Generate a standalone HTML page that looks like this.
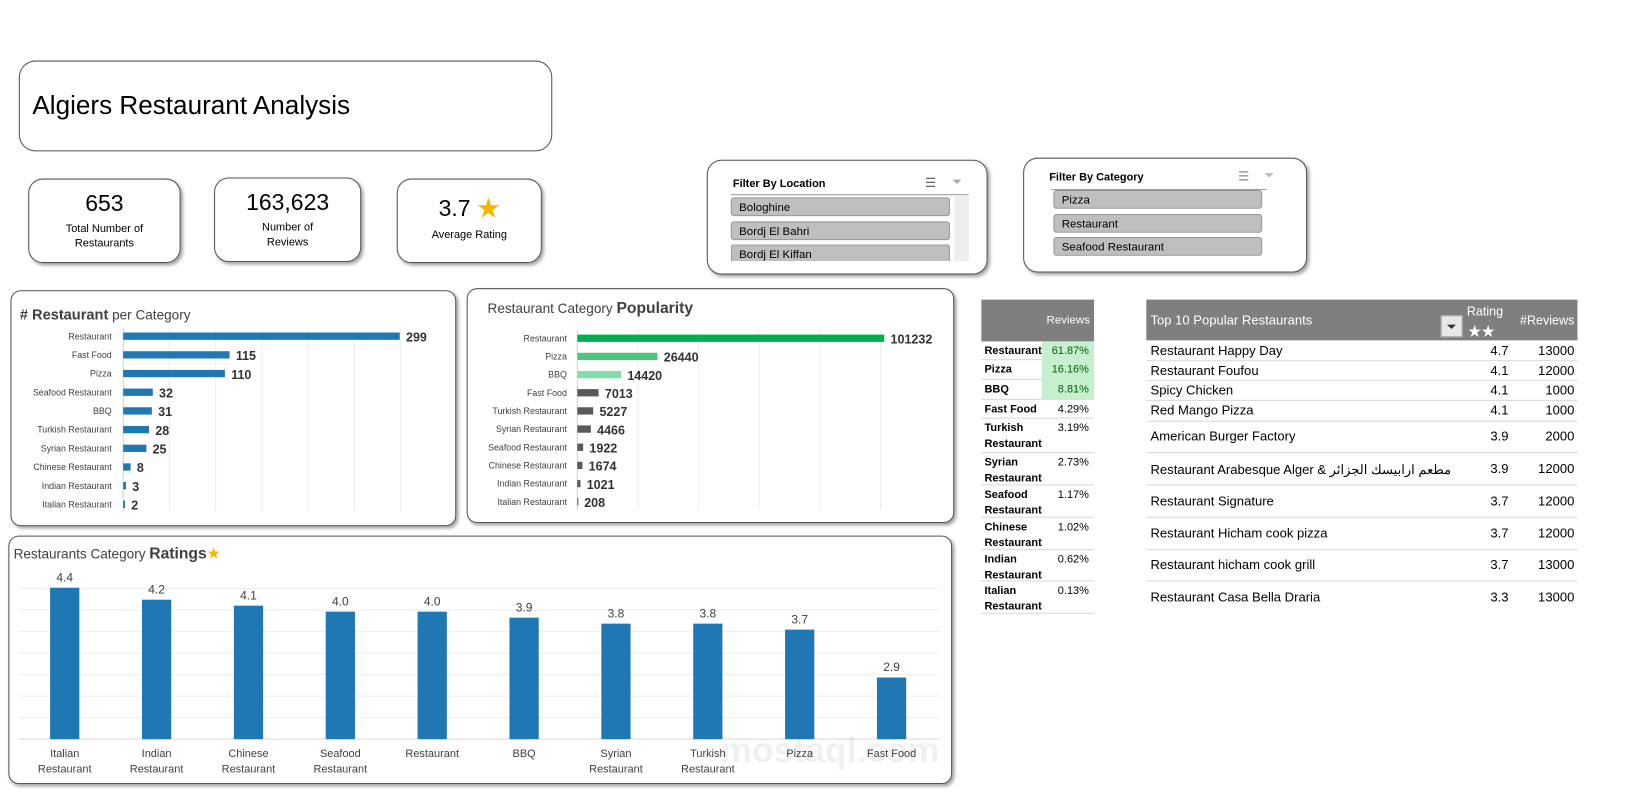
<!DOCTYPE html>
<html><head><meta charset="utf-8">
<style>
body{margin:0;width:1637px;height:796px;background:#fff;font-family:"Liberation Sans","Noto Sans CJK SC",sans-serif;position:relative;overflow:hidden;color:#000}
#wrap{position:absolute;left:0;top:0;width:1568px;height:763px;transform:scale(1.044);transform-origin:0 0}
.box{position:absolute;border:1px solid #555;border-radius:14px;background:#fff;box-shadow:2px 2px 3px rgba(0,0,0,.35)}
.kpi{text-align:center}
.kpi .v{font-size:22px;margin-top:10px}
.kpi .l{font-size:10.5px;line-height:14px;margin-top:4px}
.slicer .t{position:absolute;left:24px;top:16px;font-size:10.5px;font-weight:bold}
.slicer .line{position:absolute;left:22px;height:1px;background:#999}
.item{position:absolute;left:22px;height:18px;background:#bfbfbf;border:1px solid #999;border-radius:3px;font-size:11px;line-height:18px;padding-left:7px;box-sizing:border-box}
.tbl{position:absolute;font-size:10.5px}
.row{position:absolute;left:0;border-bottom:1px solid #d9d9d9}
svg text{font-family:"Liberation Sans",sans-serif}
</style></head><body>
<div id="wrap">

<div class="box" style="left:18px;top:58px;width:509px;height:85px;border-radius:16px;box-shadow:none">
  <div style="position:absolute;left:12px;top:28px;font-size:25px">Algiers Restaurant Analysis</div>
</div>

<div class="box kpi" style="left:27px;top:171px;width:144px;height:79px"><div class="v">653</div><div class="l">Total Number of<br>Restaurants</div></div>
<div class="box kpi" style="left:205px;top:170px;width:139px;height:79px"><div class="v">163,623</div><div class="l">Number of<br>Reviews</div></div>
<div class="box kpi" style="left:380px;top:171px;width:137px;height:79px"><div class="v">3.7 <span style="color:#f5b800">★</span></div><div class="l">Average Rating</div></div>

<div class="box slicer" style="left:677px;top:153px;width:267px;height:108px">
  <div class="t">Filter By Location</div>
  <div style="position:absolute;left:208px;top:14px;font-size:12px;color:#666">☰</div>
  <div style="position:absolute;left:234px;top:13px;font-size:12px;color:#aaa">⏷</div>
  <div class="line" style="top:32px;width:228px"></div>
  <div style="position:absolute;left:236px;top:34px;width:14px;height:62px;background:#eee"></div>
  <div class="item" style="top:35px;width:210px">Bologhine</div>
  <div class="item" style="top:58px;width:210px">Bordj El Bahri</div>
  <div class="item" style="top:80px;width:210px;height:16px;border-bottom:none;border-radius:3px 3px 0 0">Bordj El Kiffan</div>
</div>

<div class="box slicer" style="left:980px;top:151px;width:270px;height:108px">
  <div class="t" style="top:12px">Filter By Category</div>
  <div style="position:absolute;left:205px;top:10px;font-size:12px;color:#888">☰</div>
  <div style="position:absolute;left:230px;top:9px;font-size:12px;color:#bbb">⏷</div>
  <div class="line" style="top:29px;width:206px;left:26px"></div>
  <div class="item" style="left:28px;top:30px;width:200px">Pizza</div>
  <div class="item" style="left:28px;top:53px;width:200px">Restaurant</div>
  <div class="item" style="left:28px;top:75px;width:200px">Seafood Restaurant</div>
</div>

<div class="box" style="left:10px;top:278px;width:425px;height:224px;border-radius:10px"></div>
<div class="box" style="left:447px;top:276px;width:465px;height:223px;border-radius:10px"></div>
<div class="box" style="left:8px;top:513px;width:902px;height:236px;border-radius:10px"></div>

<svg id="charts" width="1568" height="763" style="position:absolute;left:0;top:0"></svg>

<div class="tbl" style="left:940px;top:287px;width:108px;height:302px">
  <div style="position:absolute;left:0;top:0;width:108px;height:40px;background:#7f7f7f;color:#fff;font-size:11px"><span style="position:absolute;right:4px;top:14px">Reviews</span></div>
  <div id="revRows"></div>
</div>

<div class="tbl" style="left:1098px;top:287px;width:413px;height:302px;font-size:12.5px">
  <div style="position:absolute;left:0;top:0;width:413px;height:39px;background:#7f7f7f;color:#fff">
    <span style="position:absolute;left:4px;top:13px;font-size:12.5px">Top 10 Popular Restaurants</span>
    <span style="position:absolute;left:282px;top:15px;width:21px;height:21px;background:#e8e8e8;border:1px solid #aaa;color:#333;font-size:12px;text-align:center;line-height:20px;box-sizing:border-box">⏷</span>
    <span style="position:absolute;left:307px;top:4px;font-size:12px">Rating</span>
    <span style="position:absolute;left:308px;top:20px;font-size:13px">★★</span>
    <span style="position:absolute;right:3px;top:13px;font-size:12px">#Reviews</span>
  </div>
  <div id="topRows"></div>
</div>

<div style="position:absolute;left:690px;top:700px;font-size:34px;color:rgba(0,0,0,.06);font-weight:bold">mostaql.com</div>
</div>

<script>
const NS='http://www.w3.org/2000/svg';
const svg=document.getElementById('charts');
function el(tag,attrs,txt){const e=document.createElementNS(NS,tag);for(const k in attrs)e.setAttribute(k,attrs[k]);if(txt!==undefined)e.textContent=txt;svg.appendChild(e);return e;}

const c1Cats=['Restaurant','Fast Food','Pizza','Seafood Restaurant','BBQ','Turkish Restaurant','Syrian Restaurant','Chinese Restaurant','Indian Restaurant','Italian Restaurant'];
const c1Vals=[299,115,110,32,31,28,25,8,3,2];
const c2Cats=['Restaurant','Pizza','BBQ','Fast Food','Turkish Restaurant','Syrian Restaurant','Seafood Restaurant','Chinese Restaurant','Indian Restaurant','Italian Restaurant'];
const c2Vals=[101232,26440,14420,7013,5227,4466,1922,1674,1021,208];
const c3Cats=[['Italian','Restaurant'],['Indian','Restaurant'],['Chinese','Restaurant'],['Seafood','Restaurant'],['Restaurant'],['BBQ'],['Syrian','Restaurant'],['Turkish','Restaurant'],['Pizza'],['Fast Food']];
const c3Vals=[4.4,4.2,4.1,4.0,4.0,3.9,3.8,3.8,3.7,2.9];
const revCats=[['Restaurant'],['Pizza'],['BBQ'],['Fast Food'],['Turkish','Restaurant'],['Syrian','Restaurant'],['Seafood','Restaurant'],['Chinese','Restaurant'],['Indian','Restaurant'],['Italian','Restaurant']];
const revPct=['61.87%','16.16%','8.81%','4.29%','3.19%','2.73%','1.17%','1.02%','0.62%','0.13%'];
const topNames=['Restaurant Happy Day','Restaurant Foufou','Spicy Chicken','Red Mango Pizza','American Burger Factory','Restaurant Arabesque Alger & مطعم ارابيسك الجزائر','Restaurant Signature','Restaurant Hicham cook pizza','Restaurant hicham cook grill','Restaurant Casa Bella Draria'];
const topRatings=['4.7','4.1','4.1','4.1','3.9','3.9','3.7','3.7','3.7','3.3'];
const topReviews=['13000','12000','1000','1000','2000','12000','12000','12000','13000','13000'];

const t1=el('text',{x:19,y:306,'font-size':14,fill:'#404040'});

t1.innerHTML='<tspan font-weight="bold"># Restaurant</tspan><tspan font-size="13"> per Category</tspan>';
const x1=v=>118+v*0.886, y1=i=>322+i*17.9;
for(let g=0;g<=300;g+=50){const l=el('line',{x1:x1(g),x2:x1(g),y1:314,y2:490,stroke:g?'#eee':'#d0d0d0'});}
c1Cats.forEach((c,i)=>{
 const t=el('text',{x:107,y:y1(i)+3,'font-size':8.5,fill:'#404040','text-anchor':'end'},c);
 
 const r=el('rect',{x:118,y:y1(i)-3.5,width:Math.max(1,x1(c1Vals[i])-118),height:7,fill:'#1f77b4'});
 
 const v=el('text',{x:x1(c1Vals[i])+6,y:y1(i)+5,'font-size':12,'font-weight':'bold',fill:'#333'},c1Vals[i]);
 
});

const t2=el('text',{x:467,y:300,'font-size':13,fill:'#404040'});

t2.innerHTML='Restaurant Category <tspan font-weight="bold" font-size="15">Popularity</tspan>';
const x2=v=>553+v*294/101232, y2=i=>324+i*17.4;
for(let g=0;g<=100000;g+=20000){const l=el('line',{x1:x2(g),x2:x2(g),y1:316,y2:488,stroke:g?'#eee':'#d0d0d0'});}
const c2Colors=['#00b050','#4cc67e','#83dcaa'];
c2Cats.forEach((c,i)=>{
 const t=el('text',{x:543,y:y2(i)+3,'font-size':8.5,fill:'#404040','text-anchor':'end'},c);
 
 const r=el('rect',{x:553,y:y2(i)-3.5,width:Math.max(1,x2(c2Vals[i])-553),height:7,fill:c2Colors[i]||'#595959'});
 
 const v=el('text',{x:x2(c2Vals[i])+6,y:y2(i)+5,'font-size':12,'font-weight':'bold',fill:'#333'},c2Vals[i]);
 
});

const t3=el('text',{x:13,y:535,'font-size':13,fill:'#404040'});

t3.innerHTML='Restaurants Category <tspan font-weight="bold" font-size="15">Ratings</tspan><tspan fill="#f5b800" font-size="15">★</tspan>';
const yMin=1.87, base3=708, k3=57.33;
const y3=v=>base3-(v-yMin)*k3, x3=i=>62+i*88;
for(let j=0;j<8;j++){const l=el('line',{x1:18,x2:900,y1:base3-j*20.6,y2:base3-j*20.6,stroke:j?'#eee':'#d9d9d9'});}
c3Cats.forEach((c,i)=>{
 const r=el('rect',{x:x3(i)-14,y:y3(c3Vals[i]),width:28,height:base3-y3(c3Vals[i]),fill:'#1f77b4'});
 
 const v=el('text',{x:x3(i),y:y3(c3Vals[i])-6,'font-size':11.5,fill:'#404040','text-anchor':'middle'},c3Vals[i].toFixed(1));
 
 c.forEach((ln,k)=>{const t=el('text',{x:x3(i),y:725+k*15,'font-size':10.5,fill:'#404040','text-anchor':'middle'},ln);
  });
});

const revTops=[327,345,364,383,401,434,465,496,527,557,588];
const rr=document.getElementById('revRows');
revCats.forEach((c,i)=>{
 const d=document.createElement('div');
 
 
 d.className='row';const top=revTops[i]-287,h=revTops[i+1]-revTops[i];
 d.style.cssText=`top:${top}px;height:${h-1}px;width:108px`;
 const green=i<3;
 d.innerHTML=`<span style="position:absolute;left:3px;top:2px;font-weight:bold;line-height:15px">${c.join('<br>')}</span>`+
  (green?`<span style="position:absolute;left:58px;top:0;width:50px;height:${h}px;background:#c6efce"></span>`:'')+
  `<span style="position:absolute;right:5px;top:2px;line-height:15px;color:${green?'#006100':'#000'}">${revPct[i]}</span>`;
 rr.appendChild(d);
});

const topTops=[327,346,365,384,404,434,465,496,527,557,588];
const tr=document.getElementById('topRows');
topNames.forEach((n,i)=>{
 const d=document.createElement('div');
 
 
 d.className='row';const top=topTops[i]-287,h=topTops[i+1]-topTops[i];
 d.style.cssText=`top:${top}px;height:${h-1}px;width:413px;${i==9?'border-bottom:none':''}`;
 const ty=(h-16)/2;
 d.innerHTML=`<span style="position:absolute;left:4px;top:${ty}px;font-family:'Liberation Sans','Noto Sans CJK SC',sans-serif">${n}</span>`+
  `<span style="position:absolute;right:66px;top:${ty}px">${topRatings[i]}</span>`+
  `<span style="position:absolute;right:3px;top:${ty}px">${topReviews[i]}</span>`;
 tr.appendChild(d);
});
</script>
</body></html>
